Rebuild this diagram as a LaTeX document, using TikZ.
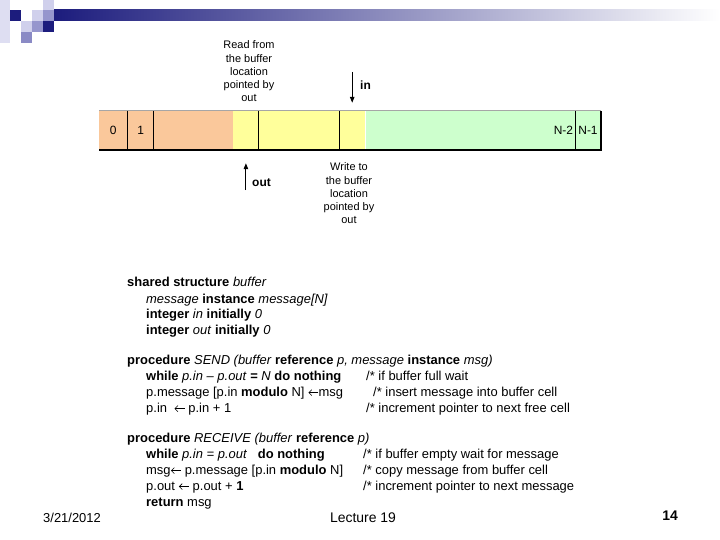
\documentclass[tikz,border=0pt]{standalone}
\usepackage{fontspec}
\setmainfont{Liberation Sans}
\usepackage{xcolor}
\definecolor{slnavy}{RGB}{28,28,125}
\definecolor{slmid}{RGB}{150,150,205}
\definecolor{sllight}{RGB}{208,208,236}
\definecolor{bufpeach}{RGB}{250,200,155}
\definecolor{bufyellow}{RGB}{255,255,155}
\definecolor{bufgreen}{RGB}{205,255,205}
\usetikzlibrary{positioning,arrows.meta}
\newcommand{\getsarrow}{\tikz[baseline=-3.4pt]\draw[-{Straight Barb[length=3pt, width=6pt]}, line width=0.55pt] (10pt,0) -- (0,0);}

\begin{document}
\begin{tikzpicture}[
  x=1bp, y=-1bp,
  cell/.style={inner sep=0pt, minimum height=39bp, font=\fontsize{12}{14}\selectfont},
  note/.style={align=center, inner sep=0pt, font=\fontsize{11}{13.3}\selectfont},
  ptr/.style={-{Triangle[length=6bp, width=4.5bp]}, line width=1bp},
  ptrlbl/.style={anchor=west, inner sep=0pt, font=\fontsize{12}{14}\selectfont\bfseries},
  code/.style={anchor=base west, inner sep=0pt, font=\fontsize{13}{16}\selectfont},
  foot/.style={inner sep=0pt, font=\fontsize{13}{15}\selectfont}]

  \useasboundingbox (0,0) rectangle (720,540);

  % --- slide decoration ---
  \fill[sllight!70] (0,0) rectangle (10,43);
  \fill[slnavy] (10,10) rectangle (21,21);
  \fill[sllight] (32,10) rectangle (43,21);
  \fill[sllight] (43,0) rectangle (54,10);
  \fill[slmid] (43,10) rectangle (54,21);
  \fill[sllight] (21,21) rectangle (32,32);
  \fill[slmid] (32,21) rectangle (43,32);
  \fill[slnavy] (43,21) rectangle (54,32);
  \fill[slmid!90!slnavy] (21,32) rectangle (32,43);
  \shade[left color=slnavy, right color=white] (54,10) rectangle (720,21);

  % --- circular buffer cells ---
  \node[cell, fill=bufpeach, minimum width=28bp, anchor=west] (c0) at (99,130.5) {0};
  \node[cell, fill=bufpeach, minimum width=26bp, right=0pt of c0] (c1) {1};
  \node[cell, fill=bufpeach, minimum width=79bp, right=0pt of c1] (free1) {};
  \node[cell, fill=bufyellow, minimum width=25bp, right=0pt of free1] (rslot) {};
  \node[cell, fill=bufyellow, minimum width=80bp, right=0pt of rslot] (full) {};
  \node[cell, fill=bufyellow, minimum width=26bp, right=0pt of full] (wslot) {};
  \node[cell, fill=bufgreen, minimum width=209bp, right=0pt of wslot] (free2) {};
  \node[cell, fill=bufgreen, minimum width=26bp, right=0pt of free2] (cn1) {N-1};
  \node[cell, anchor=east, inner xsep=1.5bp] (cn2) at (free2.east) {N-2};

  \draw[gray!70, line width=0.6bp] (c0.north west) -- (cn1.north east);
  \draw[line width=2.2bp] (c0.south west) -- (cn1.south east) -- (cn1.north east);
  \foreach \c in {c1,free1,full,wslot,cn1}
    \draw[line width=0.6bp] (\c.north west) -- (\c.south west);

  % --- pointers ---
  \node[note] (readnote) at (249,71.5) {Read from\\the buffer\\location\\pointed by\\out};
  \node[note] (writenote) at (349,193.5) {Write to\\the buffer\\location\\pointed by\\out};
  \draw[ptr] ([yshift=39bp]wslot.north) -- ([yshift=8bp]wslot.north);
  \node[ptrlbl] (inlbl) at (360,85) {in};
  \draw[ptr] ([yshift=-40bp]rslot.south) -- ([yshift=-13bp]rslot.south);
  \node[ptrlbl] (outlbl) at (252,183) {out};

  % --- shared structure ---
  \node[code] (s1) at (127,287) {\textbf{shared structure} \textit{buffer}};
  \node[code] (s2) at (146,303) {\textit{message} \textbf{instance} \textit{message[N]}};
  \node[code] (s3) at (146,318) {\textbf{integer} \textit{in} \textbf{initially} \textit{0}};
  \node[code] (s4) at (146,334) {\textbf{integer} \textit{out} \textbf{initially} \textit{0}};

  % --- send ---
  \node[code] (p1) at (127,364) {\textbf{procedure} \textit{SEND (buffer} \textbf{reference} \textit{p, message} \textbf{instance} \textit{msg)}};
  \node[code] (p2) at (146,380) {\textbf{while} \textit{p.in – p.out} \textbf{=} \textit{N} \textbf{do nothing}};
  \node[code] (p3) at (146,396) {p.message [p.in \textbf{modulo} N] \getsarrow msg};
  \node[code] (p4) at (146,412) {p.in~~\getsarrow\ p.in + 1};
  \node[code] (p2c) at (366,380) {/* if buffer full wait};
  \node[code] (p3c) at (373,396) {/* insert message into buffer cell};
  \node[code] (p4c) at (366,412) {/* increment pointer to next free cell};

  % --- receive ---
  \node[code] (r1) at (127,442) {\textbf{procedure} \textit{RECEIVE (buffer} \textbf{reference} \textit{p)}};
  \node[code] (r2) at (146,458) {\textbf{while} \textit{p.in = p.out}~~~\textbf{do nothing}};
  \node[code] (r3) at (146,474) {msg\getsarrow\ p.message [p.in \textbf{modulo} N]};
  \node[code] (r4) at (146,490) {p.out \getsarrow\ p.out + \textbf{1}};
  \node[code] (r5) at (146,506) {\textbf{return} msg};
  \node[code] (r2c) at (363,458) {/* if buffer empty wait for message};
  \node[code] (r3c) at (363,474) {/* copy message from buffer cell};
  \node[code] (r4c) at (363,490) {/* increment pointer to next message};

  % --- footer ---
  \node[foot, anchor=west] (date) at (43,518) {3/21/2012};
  \node[foot, font=\fontsize{14}{16}\selectfont] (lect) at (363,518) {Lecture 19};
  \node[foot, font=\fontsize{14}{16}\selectfont\bfseries] (pgno) at (670,516) {14};
\end{tikzpicture}
\end{document}
